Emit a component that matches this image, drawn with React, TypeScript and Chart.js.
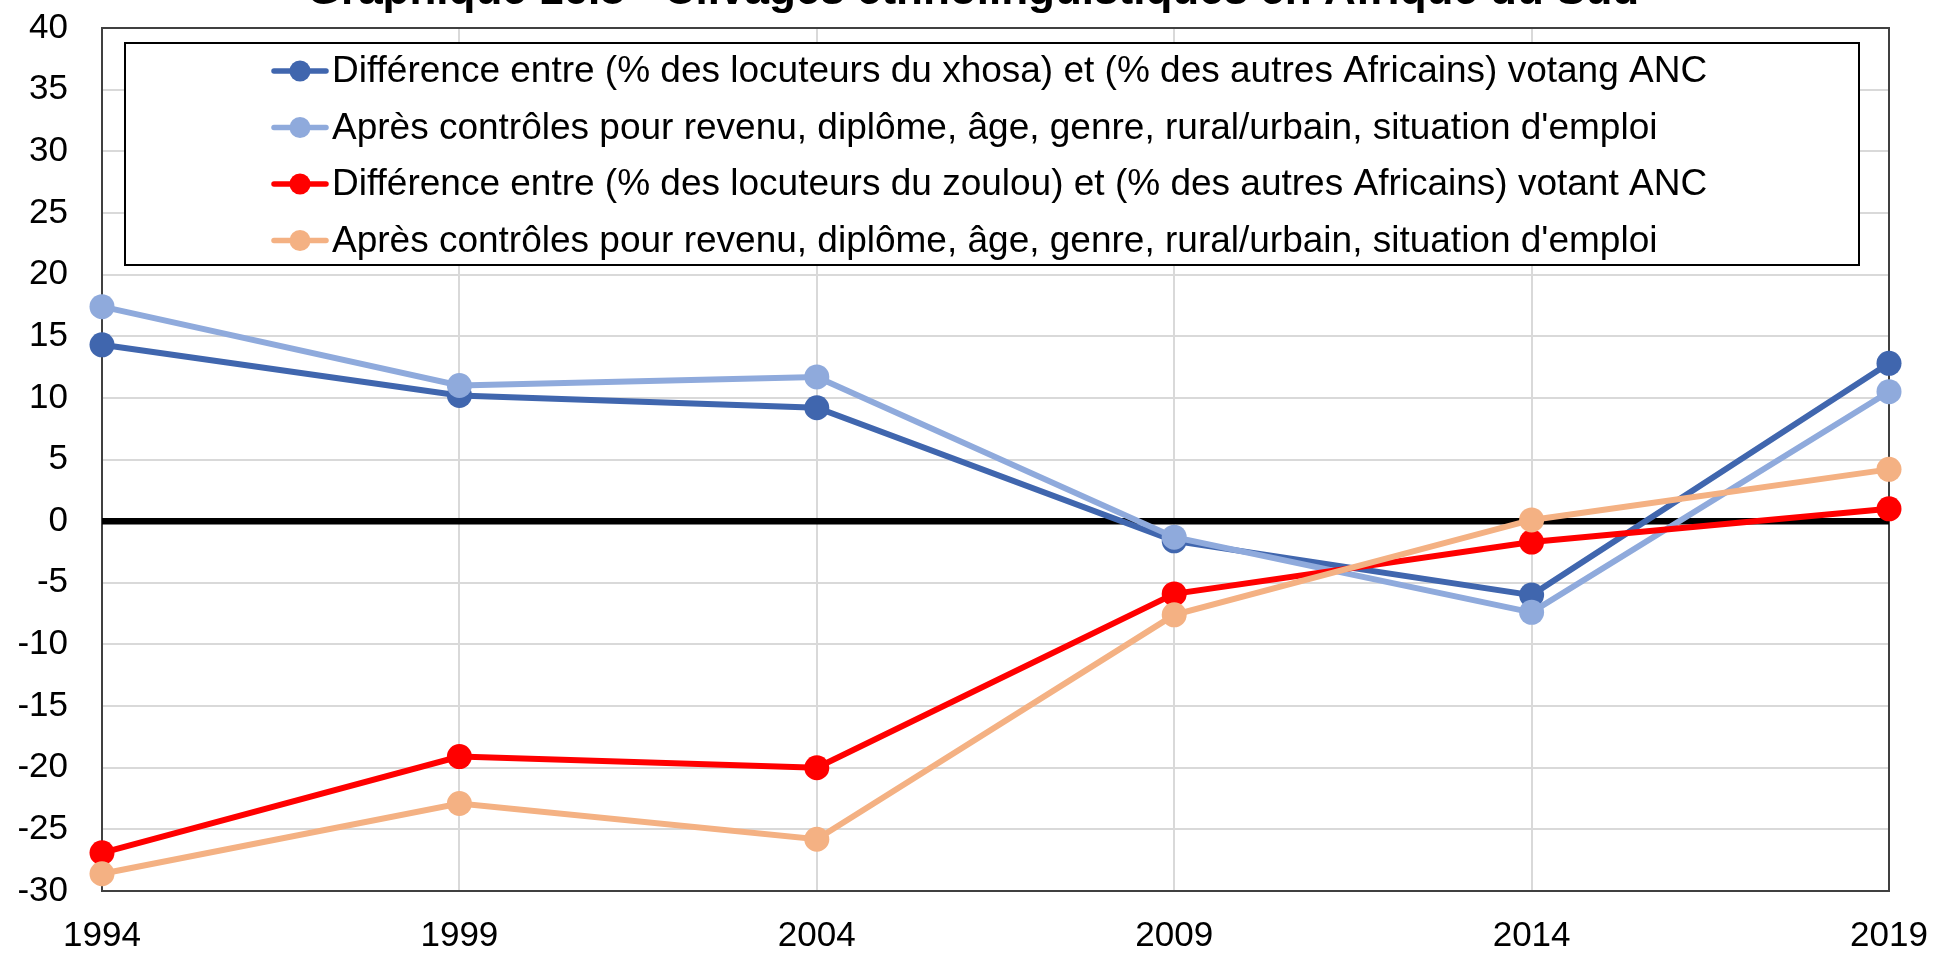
import React, { useEffect, useRef } from "react";
import { Chart, registerables } from "chart.js";

Chart.register(...registerables);

const titleText = "Graphique 16.8 - Clivages ethnolinguistiques en Afrique du Sud";
const years = ["1994", "1999", "2004", "2009", "2014", "2019"];
const xhosaDiff = [14.3, 10.2, 9.2, -1.6, -6.0, 12.8];
const xhosaControls = [17.4, 11.0, 11.7, -1.3, -7.4, 10.5];
const zuluDiff = [-26.9, -19.1, -20.0, -5.9, -1.7, 1.0];
const zuluControls = [-28.6, -22.9, -25.8, -7.6, 0.1, 4.2];
const seriesLabels = [
  "Différence entre (% des locuteurs du xhosa) et (% des autres Africains) votang ANC",
  "Après contrôles pour revenu, diplôme, âge, genre, rural/urbain, situation d'emploi",
  "Différence entre (% des locuteurs du zoulou) et (% des autres Africains) votant ANC",
  "Après contrôles pour revenu, diplôme, âge, genre, rural/urbain, situation d'emploi",
];
const seriesColors = ["#4066AE", "#8FAADC", "#FF0000", "#F4B183"];
const yMin = -30;
const yMax = 40;
const yStep = 5;

const FONT = "'Liberation Sans', Arial, Helvetica, sans-serif";

const decorPlugin = {
  id: "decor",
  beforeDatasetsDraw(chart: any) {
    const { ctx, chartArea: a, scales } = chart;
    const y0 = scales.y.getPixelForValue(0);
    ctx.save();
    ctx.strokeStyle = "#404040";
    ctx.lineWidth = 2;
    ctx.strokeRect(a.left, a.top, a.right - a.left, a.bottom - a.top);
    ctx.strokeStyle = "#000000";
    ctx.lineWidth = 6.5;
    ctx.beginPath();
    ctx.moveTo(a.left, y0);
    ctx.lineTo(a.right, y0);
    ctx.stroke();
    ctx.restore();
  },
  afterDatasetsDraw(chart: any) {
    const { ctx, chartArea: a } = chart;
    const bx = a.left + 23;
    const by = a.top + 15;
    const bw = a.right - 30 - bx;
    const bh = 222;
    ctx.save();
    ctx.fillStyle = "#ffffff";
    ctx.fillRect(bx, by, bw, bh);
    ctx.strokeStyle = "#000000";
    ctx.lineWidth = 2;
    ctx.strokeRect(bx, by, bw, bh);
    seriesLabels.forEach((label, i) => {
      const cy = by + 28 + i * 56.5;
      const color = seriesColors[i];
      ctx.strokeStyle = color;
      ctx.lineWidth = 5.5;
      ctx.lineCap = "round";
      ctx.beginPath();
      ctx.moveTo(bx + 149, cy);
      ctx.lineTo(bx + 201, cy);
      ctx.stroke();
      ctx.fillStyle = color;
      ctx.beginPath();
      ctx.arc(bx + 175, cy, 10.5, 0, Math.PI * 2);
      ctx.fill();
      ctx.fillStyle = "#000000";
      ctx.font = `37px ${FONT}`;
      ctx.textAlign = "left";
      ctx.textBaseline = "middle";
      ctx.fillText(label, bx + 207, cy + 1);
    });
    ctx.restore();
  },
  afterDraw(chart: any) {
    const { ctx } = chart;
    ctx.save();
    ctx.fillStyle = "#000000";
    ctx.font = `bold 44px ${FONT}`;
    ctx.textAlign = "center";
    ctx.textBaseline = "alphabetic";
    ctx.fillText(titleText, 973, 4);
    ctx.restore();
  },
};

function noScalePadding(scale: any) {
  scale.paddingTop = 0;
  scale.paddingBottom = 0;
  scale.paddingLeft = 0;
  scale.paddingRight = 0;
}

export default function App() {
  const ref = useRef<HTMLCanvasElement | null>(null);

  useEffect(() => {
    if (!ref.current) return;
    const seriesData = [xhosaDiff, xhosaControls, zuluDiff, zuluControls];
    const chart = new Chart(ref.current, {
      type: "line",
      data: {
        labels: years,
        datasets: seriesData.map((d, i) => ({
          label: seriesLabels[i],
          data: d,
          borderColor: seriesColors[i],
          backgroundColor: seriesColors[i],
          pointBackgroundColor: seriesColors[i],
          pointBorderColor: seriesColors[i],
          borderWidth: 6,
          pointRadius: 12.5,
          pointBorderWidth: 0,
          tension: 0,
          clip: false as any,
          order: 3 - i,
        })),
      },
      options: {
        animation: false,
        responsive: false,
        devicePixelRatio: 1,
        layout: { padding: { left: 0, top: 28, right: 44, bottom: 0 } },
        plugins: {
          legend: { display: false },
          title: { display: false },
          tooltip: { enabled: false },
        },
        scales: {
          x: {
            type: "category",
            offset: false,
            grid: { color: "#d9d9d9", lineWidth: 2, drawTicks: false },
            border: { display: false },
            ticks: {
              color: "#000000",
              font: { family: FONT, size: 35 },
              padding: 24,
              maxRotation: 0,
              autoSkip: false,
            },
            afterFit(scale: any) {
              scale.height = 62;
              noScalePadding(scale);
            },
          },
          y: {
            min: yMin,
            max: yMax,
            grid: { color: "#d9d9d9", lineWidth: 2, drawTicks: false },
            border: { display: false },
            ticks: {
              stepSize: yStep,
              color: "#000000",
              font: { family: FONT, size: 35 },
              padding: 34,
            },
            afterFit(scale: any) {
              scale.width = 102;
              noScalePadding(scale);
            },
          },
        },
      },
      plugins: [decorPlugin],
    });
    return () => chart.destroy();
  }, []);

  return (
    <canvas
      ref={ref}
      width={1933}
      height={953}
      style={{ position: "fixed", left: 0, top: 0, width: "1933px", height: "953px", display: "block", background: "#ffffff" }}
    />
  );
}
